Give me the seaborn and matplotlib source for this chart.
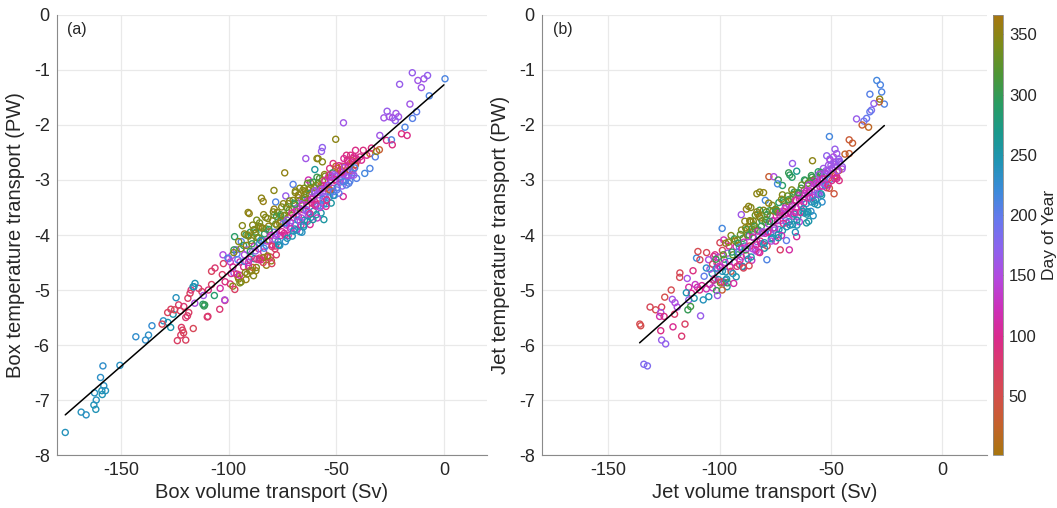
import matplotlib
matplotlib.use("Agg")
import matplotlib.pyplot as plt
import seaborn as sns
import pandas as pd
from matplotlib.colors import LinearSegmentedColormap, Normalize
from matplotlib.cm import ScalarMappable

# ---------------- data ----------------
# Panel (a): Box volume transport (Sv), Box temperature transport (PW), day of year
# scattered / outlying points
box_sv = [
    -176, -168.6, -166.3, -162.7, -161.8, -161.6, -162.4, -158.8, -159, -157.3, -158.1, -159.6, -158.5, -150.6,
    -143.2, -138.7, -137.3, -135.7, -130.4, -128.3, -127, -124.5, -125.9,
    -131, -123.9, -120, -122.3, -121.5, -122, -121, -116.5, -119.2, -118.6, -120, -128.4, -126.9, -125.2, -123.3,
    -120.9, -122.5, -110, -104.2, -101.8, -118, -119, -117.5, -114, -112.5, -109.5, -108, -108, -106.4, -103,
    -101.7, -102.5, -104, -109.7,
    -112, -111.5, -106.7, -116.2, -115.7, -111.8, -115.8, -100, -98.5, -101.9, -111.2, -116.6,
    -102.7, -100.4, -96.5, -94.2, -97.3,
    -95.7, -94.2, -92, -90.3, -87.2, -82.5, -80.2, -77.9, -84, -82, -80, -85, -78.5,
    -91, -90.5, -93.7, -87, -88, -90, -92, -86, -84, -84.8, -79, -74, -78.2, -73.5,
    -68.6, -66, -70.1, -64.2, -58.5, -56.5, -56.9, -56.5, -60, -59, -62, -65, -63, -69, -67,
    -51.5, -48.4, -46.8, -46.8, -45.3, -44.5, -43.7, -43.7, -42.2, -41.4, -40.6, -40.3, -45.3, -50.3, -46.7,
    -55.8, -59,
    -39, -38.3, -37.5, -36.8, -35.9, -34.4, -34.4, -33.7, -31.9, -31.3, -30, -29.8, -26.7, -24.4, -24,
    -27.9, -26.4, -25.4, -23.9, -22.3, -21.1, -22.6, -20.6, -19.7, -17.1, -18.1, -15.8, -14.6, -12.7,
    -14.7, -12.1, -10.5, -9.3, -7.6, -6.8, 0.5,
]
box_pw = [
    -7.59, -7.22, -7.27, -7.09, -7.17, -7.0, -6.87, -6.90, -6.83, -6.83, -6.74, -6.59, -6.38, -6.37,
    -5.85, -5.91, -5.82, -5.65, -5.56, -5.59, -5.68, -5.14, -5.44,
    -5.62, -5.92, -5.91, -5.82, -5.73, -5.68, -5.78, -5.70, -5.47, -5.41, -5.5, -5.41, -5.35, -5.36, -5.27,
    -5.30, -5.38, -5.49, -5.35, -5.19, -5.06, -5.15, -5.0, -4.97, -5.03, -5.0, -4.9, -4.66, -4.6, -4.72,
    -4.85, -4.52, -4.97, -5.48,
    -5.26, -5.29, -5.1, -4.94, -4.88, -5.1, -5.24, -4.43, -4.37, -5.18, -5.27, -4.94,
    -4.36, -4.42, -4.27, -4.12, -4.03,
    -4.76, -4.85, -4.81, -4.65, -4.59, -4.55, -4.47, -4.36, -4.5, -4.4, -4.52, -4.45, -4.25,
    -3.59, -3.61, -3.83, -3.73, -3.9, -3.95, -4.0, -3.85, -3.39, -3.33, -3.19, -2.87, -3.4, -3.29,
    -3.91, -3.95, -3.08, -2.61, -2.61, -2.67, -2.48, -2.41, -2.81, -2.95, -3.05, -3.15, -3.0, -3.2, -3.15,
    -2.70, -2.97, -3.3, -2.85, -2.91, -2.94, -3.02, -2.7, -2.82, -2.73, -2.97, -2.65, -2.55, -2.26, -1.96,
    -3.72, -2.61,
    -2.58, -2.64, -2.46, -2.88, -2.55, -2.79, -2.52, -2.42, -2.58, -2.48, -2.45, -2.19, -2.28, -2.27, -2.36,
    -1.87, -1.75, -1.85, -1.87, -1.79, -1.85, -1.92, -1.26, -2.16, -2.19, -2.04, -1.62, -1.88, -1.76,
    -1.05, -1.19, -1.32, -1.16, -1.1, -1.47, -1.16,
]
box_day = [
    240, 238, 236, 241, 243, 239, 237, 244, 242, 240, 235, 232, 230, 236,
    228, 230, 232, 226, 234, 245, 248, 238, 250,
    62, 70, 68, 72, 66, 74, 65, 60, 75, 71, 78, 64, 69, 58, 73,
    80, 67, 76, 82, 70, 63, 72, 85, 77, 68, 88, 72, 66, 80, 75,
    90, 70, 110, 78,
    290, 295, 285, 240, 245, 160, 150, 165, 140, 150, 300, 245,
    150, 210, 165, 205, 290,
    350, 345, 355, 350, 340, 355, 350, 70, 60, 80, 65, 90, 75,
    350, 352, 345, 340, 330, 300, 295, 355, 355, 350, 348, 352, 210, 165,
    240, 235, 205, 160, 350, 345, 165, 170, 260, 300, 330, 350, 120, 350, 345,
    90, 95, 105, 100, 150, 165, 210, 95, 100, 90, 205, 85, 90, 350, 160,
    255, 350,
    95, 100, 90, 215, 100, 210, 25, 90, 205, 350, 30, 160, 95, 210, 90,
    160, 165, 160, 155, 160, 158, 170, 165, 90, 95, 210, 160, 205, 200,
    165, 160, 162, 160, 168, 210, 212,
]
# dense core of the cloud in panel (a)
box_core_sv = [
    -99.3, -99.3, -98.1, -98.1, -97.6, -97.6, -96.2, -96.2, -95.4, -95.4, -94.8, -94.8, -93.1, -93.1,
    -92.7, -92.7, -91.5, -91.5, -90.8, -90.8, -89.6, -89.6, -88.9, -88.9, -88.2, -88.2, -87.4, -87.4,
    -86.1, -86.1, -85.7, -85.7, -84.3, -84.3, -83.8, -83.8, -82.6, -82.6, -81.9, -81.9, -81.1, -81.1,
    -79.7, -79.7, -78.9, -78.9, -78.2, -78.2, -77.5, -77.5, -76.3, -76.3, -75.8, -75.8, -74.6, -74.6,
    -73.9, -73.9, -73.2, -73.2, -72.4, -72.4, -71.7, -71.7, -70.5, -70.5, -69.8, -69.8, -69.1, -69.1,
    -68.3, -68.3, -67.7, -67.7, -66.9, -66.9, -66.2, -66.2, -65.6, -65.6, -64.8, -64.8, -64.1, -64.1,
    -63.4, -63.4, -62.9, -62.9, -62.2, -62.2, -61.4, -61.4, -60.7, -60.7, -60.1, -60.1, -59.3, -59.3,
    -58.6, -58.6, -57.8, -57.8, -57.1, -57.1, -56.4, -56.4, -55.9, -55.9, -55.2, -55.2, -54.6, -54.6,
    -53.7, -53.7, -53.1, -53.1, -52.4, -52.4, -51.8, -51.8, -50.9, -50.9, -50.2, -50.2, -49.6, -49.6,
    -48.8, -48.8, -48.1, -48.1, -47.3, -47.3, -46.5, -46.5, -45.8, -45.8, -44.9, -44.9, -44.2, -44.2,
    -43.4, -43.4, -42.6, -42.6, -41.9, -41.9, -41.1, -41.1,
]
box_core_pw = [
    -4.49, -4.89, -4.58, -4.93, -4.27, -4.69, -4.71, -4.34, -4.12, -4.80, -4.49, -4.87, -4.19, -4.58,
    -3.98, -4.48, -4.27, -4.71, -4.02, -4.57, -4.40, -4.10, -3.82, -4.59, -4.21, -4.43, -3.95, -4.65,
    -4.05, -4.25, -3.78, -4.42, -4.10, -3.88, -4.31, -3.63, -3.89, -4.19, -3.70, -4.40, -3.94, -4.10,
    -3.74, -4.18, -3.53, -3.95, -4.20, -3.80, -3.59, -3.99, -3.79, -4.19, -3.66, -4.01, -3.43, -3.79,
    -4.00, -3.64, -3.50, -3.82, -3.68, -4.01, -3.38, -3.84, -3.54, -4.02, -3.68, -3.42, -3.23, -3.82,
    -3.51, -3.90, -3.32, -3.66, -3.52, -3.94, -3.35, -3.69, -3.19, -3.54, -3.37, -3.73, -3.56, -3.25,
    -3.06, -3.75, -3.37, -3.59, -3.15, -3.81, -3.22, -3.42, -3.57, -3.04, -3.25, -3.45, -3.10, -3.63,
    -3.27, -3.47, -2.97, -3.33, -3.10, -3.60, -3.23, -3.01, -3.44, -3.10, -2.93, -3.30, -3.10, -3.43,
    -2.95, -3.17, -2.79, -3.30, -3.00, -3.42, -3.15, -2.87, -2.90, -3.28, -3.02, -2.75, -2.92, -3.14,
    -2.74, -3.24, -3.00, -2.82, -2.75, -3.11, -2.89, -2.61, -2.75, -3.02, -2.92, -2.64, -2.75, -3.06,
    -2.55, -2.85, -2.87, -2.65, -2.58, -2.91, -2.72, -2.46,
]
box_core_day = [
    140, 85, 100, 350, 300, 160, 75, 205, 345, 355, 120, 340, 290, 95,
    350, 215, 155, 345, 330, 110, 180, 350, 345, 30, 130, 250, 300, 355,
    350, 100, 340, 80, 165, 355, 120, 350, 310, 215, 345, 60, 140, 340,
    350, 100, 355, 195, 90, 330, 345, 150, 350, 240, 290, 110, 350, 170,
    95, 345, 320, 130, 355, 110, 340, 160, 350, 245, 110, 300, 345, 205,
    150, 135, 355, 95, 340, 240, 160, 150, 350, 120, 290, 250, 170, 345,
    330, 245, 100, 210, 350, 105, 150, 30, 245, 300, 165, 105, 345, 255,
    155, 200, 320, 95, 25, 250, 160, 350, 210, 110, 340, 165, 100, 240,
    150, 30, 90, 205, 165, 255, 120, 300, 160, 210, 95, 25, 150, 230,
    100, 200, 165, 30, 90, 170, 160, 100, 30, 215, 150, 95, 105, 205,
    90, 160, 210, 25, 100, 165, 30, 95,
]
box_core2_sv = [
    -98.9, -97.7, -97.2, -95.8, -95.0, -94.4, -92.7, -92.3, -91.1, -90.4,
    -89.2, -88.5, -87.8, -87.0, -85.7, -85.3, -83.9, -83.4, -82.2, -81.5,
    -80.7, -79.3, -78.5, -77.8, -77.1, -75.9, -75.4, -74.2, -73.5, -72.8,
    -72.0, -71.3, -70.1, -69.4, -68.7, -67.9, -67.3, -66.5, -65.8, -65.2,
    -64.4, -63.7, -63.0, -62.5, -61.8, -61.0, -60.3, -59.7, -58.9, -58.2,
    -57.4, -56.7, -56.0, -55.5, -54.8, -54.2, -53.3, -52.7, -52.0, -51.4,
    -50.5, -49.8, -49.2, -48.4, -47.7, -46.9, -46.1, -45.4, -44.5, -43.8,
    -43.0, -42.2, -41.5, -40.7,
]
box_core2_pw = [
    -4.70, -4.32, -4.99, -4.45, -4.73, -4.25, -4.36, -4.68, -4.00, -4.44,
    -4.16, -4.74, -3.97, -4.44, -4.15, -3.85, -4.41, -3.98, -4.11, -3.84,
    -4.40, -3.58, -4.08, -3.66, -4.12, -3.75, -3.49, -3.97, -3.78, -4.06,
    -3.55, -3.78, -3.37, -3.89, -3.56, -3.73, -3.38, -3.82, -3.43, -3.85,
    -3.21, -3.46, -3.63, -3.25, -3.68, -3.33, -3.13, -3.47, -3.69, -3.16,
    -3.47, -3.15, -3.30, -2.90, -3.48, -3.14, -2.91, -3.22, -2.93, -3.28,
    -2.99, -3.18, -2.79, -3.04, -2.86, -3.03, -2.77, -3.09, -2.67, -2.82,
    -2.91, -2.61, -2.78, -2.61,
]
box_core2_day = [
    95, 345, 70, 200, 110, 340, 150, 350, 345, 100,
    300, 345, 350, 85, 210, 340, 355, 290, 130, 350,
    70, 345, 160, 300, 240, 355, 345, 100, 215, 250,
    330, 140, 350, 245, 120, 230, 345, 110, 160, 240,
    350, 100, 150, 300, 245, 150, 345, 110, 130, 160,
    205, 95, 165, 350, 100, 120, 90, 215, 160, 245,
    100, 200, 25, 160, 95, 210, 150, 205, 100, 30,
    160, 90, 210, 100,
]
box_core3_sv = [
    -91.8, -90.9, -90.0, -89.3, -88.4, -87.6, -86.8, -85.9, -85.2, -84.5,
    -83.6, -82.9, -82.0, -81.3, -80.5, -79.9, -79.0, -78.3, -77.6, -76.8,
    -76.0, -75.3, -74.4, -73.7, -72.9, -72.2, -71.4, -70.7, -69.9, -69.2,
    -68.5, -67.6, -66.8, -66.0, -65.3, -64.6, -63.8, -63.1, -62.3, -61.6,
    -60.9, -60.0, -59.4, -58.5, -57.7, -56.9, -56.2, -55.4, -54.5, -53.8,
    -53.0, -52.2, -51.3, -50.6,
]
box_core3_pw = [
    -4.19, -4.50, -4.30, -4.65, -3.91, -4.29, -4.05, -4.45, -4.10, -3.87,
    -4.24, -3.68, -4.38, -3.90, -4.01, -4.21, -3.64, -4.01, -3.82, -4.18,
    -3.63, -3.94, -3.65, -4.12, -3.73, -3.43, -3.88, -3.60, -3.93, -3.44,
    -3.66, -3.27, -3.75, -3.46, -3.82, -3.32, -3.54, -3.18, -3.61, -3.35,
    -3.72, -3.20, -3.44, -3.06, -3.50, -3.17, -3.35, -3.01, -3.36, -3.10,
    -3.18, -2.95, -3.21, -2.93,
]
box_core3_day = [
    350, 130, 290, 350, 345, 165, 330, 95, 250, 350,
    210, 345, 355, 300, 120, 75, 340, 150, 350, 245,
    320, 105, 345, 230, 160, 350, 120, 100, 240, 300,
    155, 350, 160, 130, 250, 340, 165, 350, 105, 110,
    255, 160, 95, 330, 140, 150, 210, 100, 95, 165,
    30, 120, 205, 160,
]

# Panel (b): Jet volume transport (Sv), Jet temperature transport (PW), day of year
jet_sv = [
    -135.9, -135.5, -134.1, -132.5, -131.3, -128.8, -126.1, -126.5, -127, -125,
    -126.1, -124.3, -126.5, -121.8, -124.7, -121.3, -120.1, -121, -120.3, -119.1,
    -115.6, -117.1, -117.9, -118, -114.6, -113.9, -112.7, -113.9, -114.3, -113.1,
    -110.4, -108.9, -109.8, -105.9, -108.6, -110, -108, -106, -104.5, -109,
    -111, -104.9, -107.4, -103.4, -104.4, -100.9, -98.9, -99.9, -98.2, -102.7,
    -101.2, -97.4, -96.7, -102.7, -98.9, -106, -107, -105, -112, -115, -111.5,
    -83.3, -82, -80.3, -88, -87, -86, -90.3, -79.5, -77.9, -75.7, -73.7, -71.8, -68.5, -69, -67.5, -65.4,
    -67.3, -74, -84, -86, -82, -85, -87,
    -62, -60, -58, -61, -59, -68.7, -72.8, -65.4, -78.8, -70, -66, -56, -54,
    -29.4, -27.8, -27.2, -32.5, -26, -28.1, -28.3, -30.7, -31.8, -32.5,
    -34, -35.2, -38.5, -36, -33.1, -50.7, -41.8, -40.3, -43.7, -41.8,
    -48.2, -47.4, -48.9, -51.9, -50.5, -46.5, -45, -58.3, -44.9, -47.4, -46.3, -48.6, -54.9,
]
jet_pw = [
    -5.62, -5.65, -6.35, -6.38, -5.31, -5.36, -5.31, -5.41, -5.48, -5.48,
    -5.91, -5.98, -5.74, -5.0, -5.13, -5.17, -5.23, -5.67, -5.44, -5.31,
    -5.62, -5.84, -4.69, -4.77, -4.79, -4.95, -5.06, -5.18, -5.36, -5.3,
    -4.42, -4.45, -4.30, -4.32, -5.47, -4.95, -4.92, -4.98, -4.9, -5.0,
    -4.9, -5.12, -5.18, -4.70, -4.62, -4.62, -3.88, -4.14, -4.09, -4.39,
    -4.51, -4.82, -4.94, -4.82, -5.0, -4.6, -4.75, -4.45, -4.65, -5.05, -5.15,
    -3.25, -3.22, -3.23, -3.53, -3.48, -3.5, -3.63, -3.37, -2.94, -2.94, -3.0, -3.1, -2.91, -2.87, -2.95, -2.84,
    -2.70, -3.07, -3.64, -3.75, -3.55, -3.95, -3.85,
    -3.6, -3.75, -3.65, -3.78, -3.57, -4.27, -4.27, -4.03, -4.45, -4.1, -3.95, -3.45, -3.4,
    -1.19, -1.27, -1.40, -1.44, -1.62, -1.53, -1.58, -1.61, -1.73, -1.76,
    -1.88, -1.93, -1.89, -2.0, -2.04, -2.21, -2.27, -2.33, -2.53, -2.52,
    -2.44, -2.52, -2.58, -2.56, -2.62, -2.68, -2.8, -2.65, -2.76, -2.94, -3.01, -3.25, -2.89,
]
jet_day = [
    55, 50, 180, 182, 60, 55, 65, 155, 115, 90,
    165, 170, 95, 55, 50, 160, 150, 100, 75, 150,
    70, 80, 60, 58, 155, 110, 100, 165, 300, 310,
    220, 60, 55, 60, 165, 110, 105, 120, 100, 95,
    130, 245, 240, 250, 160, 140, 215, 60, 120, 95,
    100, 240, 250, 300, 30, 230, 200, 150, 90, 245, 250,
    350, 348, 352, 355, 350, 345, 160, 215, 30, 150, 300, 290, 295, 300, 290, 270,
    165, 215, 330, 340, 300, 30, 355,
    245, 250, 240, 255, 230, 110, 70, 105, 210, 200, 240, 250, 230,
    215, 212, 210, 205, 208, 350, 25, 170, 180, 200,
    195, 190, 165, 30, 20, 215, 35, 30, 25, 30,
    165, 160, 150, 170, 175, 160, 150, 350, 165, 95, 90, 40, 30,
]
# dense core of the cloud in panel (b)
jet_core_sv = [
    -103.2, -103.2, -102.1, -102.1, -101.4, -101.4, -100.6, -100.6, -99.7, -99.7, -98.8, -98.8,
    -98.0, -98.0, -97.3, -97.3, -96.5, -96.5, -95.8, -95.8, -94.9, -94.9, -94.1, -94.1,
    -93.4, -93.4, -92.6, -92.6, -91.9, -91.9, -91.1, -91.1, -90.2, -90.2, -89.5, -89.5,
    -88.7, -88.7, -88.0, -88.0, -87.2, -87.2, -86.5, -86.5, -85.6, -85.6, -84.9, -84.9,
    -84.1, -84.1, -83.3, -83.3, -82.6, -82.6, -81.8, -81.8, -81.0, -81.0, -80.3, -80.3,
    -79.5, -79.5, -78.7, -78.7, -78.0, -78.0, -77.2, -77.2, -76.4, -76.4, -75.7, -75.7,
    -74.9, -74.9, -74.1, -74.1, -73.4, -73.4, -72.6, -72.6, -71.8, -71.8, -71.1, -71.1,
    -70.3, -70.3, -69.5, -69.5, -68.8, -68.8, -68.0, -68.0, -67.2, -67.2, -66.5, -66.5,
    -65.7, -65.7, -64.9, -64.9, -64.2, -64.2, -63.4, -63.4, -62.6, -62.6, -61.9, -61.9,
    -61.1, -61.1, -60.3, -60.3, -59.6, -59.6, -58.8, -58.8, -58.0, -58.0, -57.3, -57.3,
    -56.5, -56.5, -55.7, -55.7, -55.0, -55.0, -54.2, -54.2, -53.4, -53.4, -52.7, -52.7,
    -51.9, -51.9, -51.1, -51.1, -50.4, -50.4, -49.6, -49.6, -48.8, -48.8, -48.1, -48.1,
    -47.3, -47.3, -46.5, -46.5,
]
jet_core_pw = [
    -4.53, -4.96, -4.79, -4.36, -4.60, -5.01, -4.40, -4.81, -4.87, -4.59, -4.28, -4.66,
    -4.44, -4.86, -4.67, -4.15, -4.33, -4.87, -4.48, -4.20, -4.66, -4.01, -4.36, -4.70,
    -4.07, -4.50, -4.21, -4.76, -4.36, -4.09, -4.54, -4.22, -3.91, -4.40, -4.06, -4.58,
    -4.20, -3.75, -4.37, -3.90, -4.03, -4.44, -3.74, -4.20, -3.89, -4.46, -4.04, -3.75,
    -4.26, -3.89, -3.58, -4.12, -3.91, -4.31, -3.69, -4.11, -3.96, -3.74, -4.17, -3.55,
    -3.77, -3.97, -4.20, -3.63, -3.80, -3.42, -3.97, -3.65, -3.46, -4.05, -3.75, -3.87,
    -3.53, -4.11, -3.74, -3.59, -3.41, -3.90, -3.58, -3.74, -3.92, -3.27, -3.57, -3.41,
    -3.74, -3.48, -3.29, -3.60, -3.76, -3.46, -3.34, -3.62, -3.81, -3.46, -3.22, -3.62,
    -3.37, -3.50, -3.67, -3.25, -3.35, -3.76, -3.15, -3.47, -3.34, -3.57, -3.18, -3.00,
    -3.43, -3.21, -3.58, -3.06, -3.20, -3.30, -3.40, -2.92, -3.06, -3.28, -3.43, -2.98,
    -3.14, -3.03, -2.85, -3.26, -3.12, -3.00, -2.89, -3.28, -2.99, -2.79, -3.10, -2.87,
    -2.90, -3.14, -2.73, -2.97, -2.99, -2.64, -2.79, -3.01, -2.68, -2.87, -2.92, -2.72,
    -2.75, -2.97, -2.62, -2.83,
]
jet_core_day = [
    60, 130, 110, 95, 230, 300, 140, 250, 330, 100, 60, 240,
    300, 120, 250, 350, 160, 300, 230, 95, 40, 345, 330, 240,
    300, 130, 120, 250, 290, 350, 60, 220, 345, 160, 300, 100,
    250, 350, 90, 310, 140, 240, 350, 60, 300, 130, 230, 345,
    110, 330, 350, 170, 290, 115, 355, 90, 150, 300, 240, 345,
    330, 120, 60, 300, 150, 350, 230, 110, 345, 250, 130, 300,
    320, 100, 120, 350, 290, 240, 110, 160, 250, 345, 130, 300,
    200, 90, 330, 115, 245, 140, 350, 105, 240, 120, 300, 250,
    110, 130, 245, 330, 120, 140, 300, 100, 140, 250, 115, 290,
    230, 125, 250, 330, 110, 150, 240, 300, 135, 200, 245, 320,
    120, 160, 290, 230, 100, 150, 310, 250, 130, 160, 240, 110,
    150, 95, 160, 30, 215, 150, 165, 95, 155, 130, 40, 160,
    150, 100, 165, 30,
]
jet_core2_sv = [
    -102.8, -101.7, -101.0, -100.2, -99.3, -98.4, -97.6, -96.9, -96.1, -95.4,
    -94.5, -93.7, -93.0, -92.2, -91.5, -90.7, -89.8, -89.1, -88.3, -87.6,
    -86.8, -86.1, -85.2, -84.5, -83.7, -82.9, -82.2, -81.4, -80.6, -79.9,
    -79.1, -78.3, -77.6, -76.8, -76.0, -75.3, -74.5, -73.7, -73.0, -72.2,
    -71.4, -70.7, -69.9, -69.1, -68.4, -67.6, -66.8, -66.1, -65.3, -64.5,
    -63.8, -63.0, -62.2, -61.5, -60.7, -59.9, -59.2, -58.4, -57.6, -56.9,
    -56.1, -55.3, -54.6, -53.8, -53.0, -52.3, -51.5, -50.7, -50.0, -49.2,
    -48.4, -47.7, -46.9, -46.1,
]
jet_core2_pw = [
    -4.82, -4.44, -5.10, -4.57, -4.85, -4.36, -4.50, -4.80, -4.13, -4.58,
    -4.31, -4.88, -4.11, -4.57, -4.31, -3.99, -4.57, -4.13, -4.27, -4.00,
    -4.56, -3.76, -4.25, -3.84, -4.29, -3.93, -3.66, -4.16, -3.96, -4.24,
    -3.72, -3.95, -3.56, -4.07, -3.74, -3.91, -3.55, -3.99, -3.60, -4.01,
    -3.37, -3.62, -3.78, -3.39, -3.82, -3.47, -3.26, -3.59, -3.82, -3.28,
    -3.59, -3.27, -3.41, -3.01, -3.58, -3.23, -3.01, -3.31, -3.02, -3.36,
    -3.07, -3.26, -2.86, -3.11, -2.92, -3.10, -2.84, -3.15, -2.73, -2.89,
    -2.97, -2.67, -2.83, -2.66,
]
jet_core2_day = [
    100, 300, 160, 130, 60, 330, 130, 250, 345, 110,
    290, 110, 350, 90, 200, 330, 250, 120, 300, 345,
    60, 350, 150, 300, 150, 110, 345, 100, 130, 250,
    330, 100, 300, 245, 115, 160, 350, 250, 120, 120,
    300, 110, 140, 345, 250, 130, 310, 100, 245, 120,
    105, 140, 105, 300, 250, 125, 330, 135, 110, 245,
    150, 155, 300, 120, 160, 215, 150, 40, 165, 130,
    95, 160, 150, 170,
]
jet_core3_sv = [
    -91.8, -90.9, -90.0, -89.3, -88.4, -87.6, -86.8, -85.9, -85.2, -84.5,
    -83.6, -82.9, -82.0, -81.3, -80.5, -79.9, -79.0, -78.3, -77.6, -76.8,
    -76.0, -75.3, -74.4, -73.7, -72.9, -72.2, -71.4, -70.7, -69.9, -69.2,
    -68.5, -67.6, -66.8, -66.0, -65.3, -64.6, -63.8, -63.1, -62.3, -61.6,
    -60.9, -60.0, -59.4, -58.5, -57.7, -56.9, -56.2, -55.4, -54.5, -53.8,
    -53.0, -52.2, -51.3, -50.6,
]
jet_core3_pw = [
    -4.15, -4.46, -4.25, -4.60, -3.87, -4.24, -4.00, -4.40, -4.04, -3.82,
    -4.18, -3.62, -4.32, -3.84, -3.94, -4.14, -3.58, -3.94, -3.75, -4.11,
    -3.56, -3.87, -3.57, -4.05, -3.65, -3.35, -3.79, -3.52, -3.85, -3.36,
    -3.57, -3.18, -3.66, -3.37, -3.73, -3.23, -3.44, -3.09, -3.52, -3.25,
    -3.62, -3.09, -3.33, -2.95, -3.39, -3.06, -3.24, -2.90, -3.25, -2.98,
    -3.06, -2.83, -3.09, -2.81,
]
jet_core3_day = [
    300, 110, 120, 60, 350, 150, 300, 250, 120, 340,
    105, 350, 100, 300, 160, 245, 330, 110, 290, 150,
    345, 130, 300, 250, 115, 350, 95, 140, 245, 310,
    120, 345, 135, 105, 250, 300, 130, 330, 245, 115,
    250, 140, 110, 300, 240, 125, 160, 160, 250, 110,
    150, 165, 100, 155,
]

# Least-squares fit lines (end points)
box_fit_sv = [-176, 0]
box_fit_pw = [-7.27, -1.27]
jet_fit_sv = [-136, -26]
jet_fit_pw = [-5.96, -2.01]

day_ticks = [50, 100, 150, 200, 250, 300, 350]
x_ticks = [-150, -100, -50, 0]
y_ticks = [-8, -7, -6, -5, -4, -3, -2, -1, 0]

# ---------------- style ----------------
sns.set_theme(style="white")
plt.rcParams["font.family"] = ["Liberation Sans", "DejaVu Sans"]
plt.rcParams["axes.unicode_minus"] = False

# cyclic "phase"-like colour map as seen on the colour bar
phase_colors = ["#A8760F", "#C4622C", "#D44E4C", "#DA3C68", "#DA2A8E", "#CC30BA",
                "#B448DE", "#8E62EE", "#6878EE", "#3C8ADA", "#2094B4", "#1A998C",
                "#2A9C62", "#4E9636", "#7C8C1A", "#A8760F"]
cmap = LinearSegmentedColormap.from_list("phase_like", phase_colors)
norm = Normalize(vmin=1, vmax=366)

TEXT = "#262626"
AXC = "#8a8a8a"

fig = plt.figure(figsize=(10.57, 5.08), dpi=100)
ax_a = fig.add_axes([0.0536, 0.1043, 0.4071, 0.8662])
ax_b = fig.add_axes([0.5125, 0.1043, 0.4210, 0.8662])
cax = fig.add_axes([0.9392, 0.1043, 0.0100, 0.8662])


def panel(ax, xs, ys, days, fx, fy, xlabel, ylabel, tag):
    assert len(xs) == len(ys) == len(days), (len(xs), len(ys), len(days))
    df = pd.DataFrame({"sv": xs, "pw": ys, "day": days})
    sns.scatterplot(data=df, x="sv", y="pw", hue="day", palette=cmap, hue_norm=norm,
                    legend=False, s=19, linewidth=1.0, ax=ax, zorder=3)
    coll = ax.collections[-1]
    fc = coll.get_facecolors()
    coll.set_edgecolors(fc)
    coll.set_facecolors("none")
    sns.lineplot(x=fx, y=fy, color="black", linewidth=1.1, ax=ax, zorder=4)
    ax.set_xlim(-180, 20)
    ax.set_ylim(-8, 0)
    ax.set_xticks(x_ticks)
    ax.set_yticks(y_ticks)
    ax.grid(True, color="#e9e9e9", linewidth=0.9)
    ax.set_axisbelow(True)
    for side in ["top", "right"]:
        ax.spines[side].set_visible(False)
    for side in ["left", "bottom"]:
        ax.spines[side].set_color(AXC)
        ax.spines[side].set_linewidth(0.8)
    ax.tick_params(direction="in", length=3, width=0.6, color=AXC,
                   labelsize=13, labelcolor=TEXT, pad=5)
    ax.set_xlabel(xlabel, fontsize=14.5, color=TEXT, labelpad=3)
    ax.set_ylabel(ylabel, fontsize=14.5, color=TEXT, labelpad=6)
    ax.text(0.025, 0.985, tag, transform=ax.transAxes, ha="left", va="top",
            fontsize=11.5, color=TEXT)


panel(ax_a,
      box_sv + box_core_sv + box_core2_sv + box_core3_sv,
      box_pw + box_core_pw + box_core2_pw + box_core3_pw,
      box_day + box_core_day + box_core2_day + box_core3_day,
      box_fit_sv, box_fit_pw,
      "Box volume transport (Sv)", "Box temperature transport (PW)", "(a)")
panel(ax_b,
      jet_sv + jet_core_sv + jet_core2_sv + jet_core3_sv,
      jet_pw + jet_core_pw + jet_core2_pw + jet_core3_pw,
      jet_day + jet_core_day + jet_core2_day + jet_core3_day,
      jet_fit_sv, jet_fit_pw,
      "Jet volume transport (Sv)", "Jet temperature transport (PW)", "(b)")

cb = fig.colorbar(ScalarMappable(norm=norm, cmap=cmap), cax=cax, ticks=day_ticks)
cb.outline.set_edgecolor(AXC)
cb.outline.set_linewidth(0.6)
cax.tick_params(direction="in", length=3, width=0.6, color="#555555",
                labelsize=12, labelcolor=TEXT, pad=4)
cb.set_label("Day of Year", fontsize=12.5, color=TEXT, labelpad=4)

fig.savefig("out.png", dpi=100)
